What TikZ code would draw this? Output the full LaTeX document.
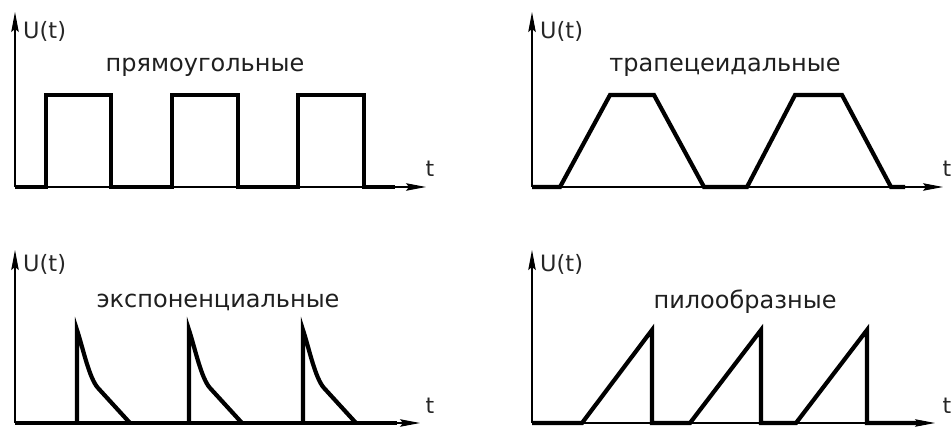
\documentclass[tikz,border=0pt]{standalone}
\usepackage{fontspec}
\setmainfont{DejaVu Sans}
\usetikzlibrary{arrows.meta}
\tikzset{
  axis/.style={line width=1.2pt, -{Stealth[length=20pt,width=7.5pt,inset=3pt]}},
  wave/.style={line width=4.2pt, line join=miter, line cap=butt},
  title/.style={font=\fontsize{24}{28}\selectfont, text=black!88, inner sep=0pt},
  ulabel/.style={font=\fontsize{22.5}{26}\selectfont, text=black!85, inner sep=0pt, anchor=west},
  tlabel/.style={font=\fontsize{22}{26}\selectfont, text=black!85, inner sep=0pt},
}
\begin{document}
\begin{tikzpicture}[x=1pt,y=-1pt]
\useasboundingbox (0,0) rectangle (952,427);
% ---------- panel 1: rectangular
\coordinate (o1) at (15,187);
\coordinate (y1) at (15,12);
\coordinate (x1) at (426,187);
\draw[axis] (o1) -- (y1);
\draw[axis] (o1) -- (x1);
\node[ulabel] (u1) at (23,31) {U(t)};
\node[tlabel] (t1) at (430,169) {t};
\node[title] (h1) at (205,67) {прямоугольные};
\draw[wave] (15,187) -- (46,187) -- (46,95) -- (111,95) -- (111,187)
  -- (172,187) -- (172,95) -- (238,95) -- (238,187)
  -- (298,187) -- (298,95) -- (364,95) -- (364,187) -- (395,187);
% ---------- panel 2: trapezoidal
\coordinate (o2) at (532,187);
\coordinate (y2) at (532,12);
\coordinate (x2) at (943,187);
\draw[axis] (o2) -- (y2);
\draw[axis] (o2) -- (x2);
\node[ulabel] (u2) at (540,31) {U(t)};
\node[tlabel] (t2) at (947,169) {t};
\node[title] (h2) at (725,67) {трапецеидальные};
\draw[wave] (532,187) -- (560,187) -- (610,95) -- (654,95) -- (704,187)
  -- (747,187) -- (795,95) -- (842,95) -- (891,187) -- (905,187);
% ---------- panel 3: exponential
\coordinate (o3) at (15,423);
\coordinate (y3) at (15,250);
\coordinate (x3) at (420,423);
\draw[axis] (o3) -- (y3);
\draw[axis] (o3) -- (x3);
\node[ulabel] (u3) at (23,264) {U(t)};
\node[tlabel] (t3) at (430,406) {t};
\node[title] (h3) at (218,302) {экспоненциальные};
\foreach \s in {77,189,303}{
  \draw[wave] (\s,423) -- (\s,330) .. controls (\s+6,348) and (\s+12,378) .. (\s+21,388)
    -- (\s+53,423);
}
\draw[wave] (15,423) -- (397,423);
% ---------- panel 4: sawtooth
\coordinate (o4) at (532,423);
\coordinate (y4) at (532,250);
\coordinate (x4) at (935,423);
\draw[axis] (o4) -- (y4);
\draw[axis] (o4) -- (x4);
\node[ulabel] (u4) at (540,264) {U(t)};
\node[tlabel] (t4) at (947,406) {t};
\node[title] (h4) at (745,302) {пилообразные};
\draw[wave] (532,423) -- (582,423) -- (652,330) -- (652,423)
  -- (690,423) -- (761,330) -- (761,423)
  -- (796,423) -- (867,330) -- (867,423) -- (922,423);
\end{tikzpicture}
\end{document}
